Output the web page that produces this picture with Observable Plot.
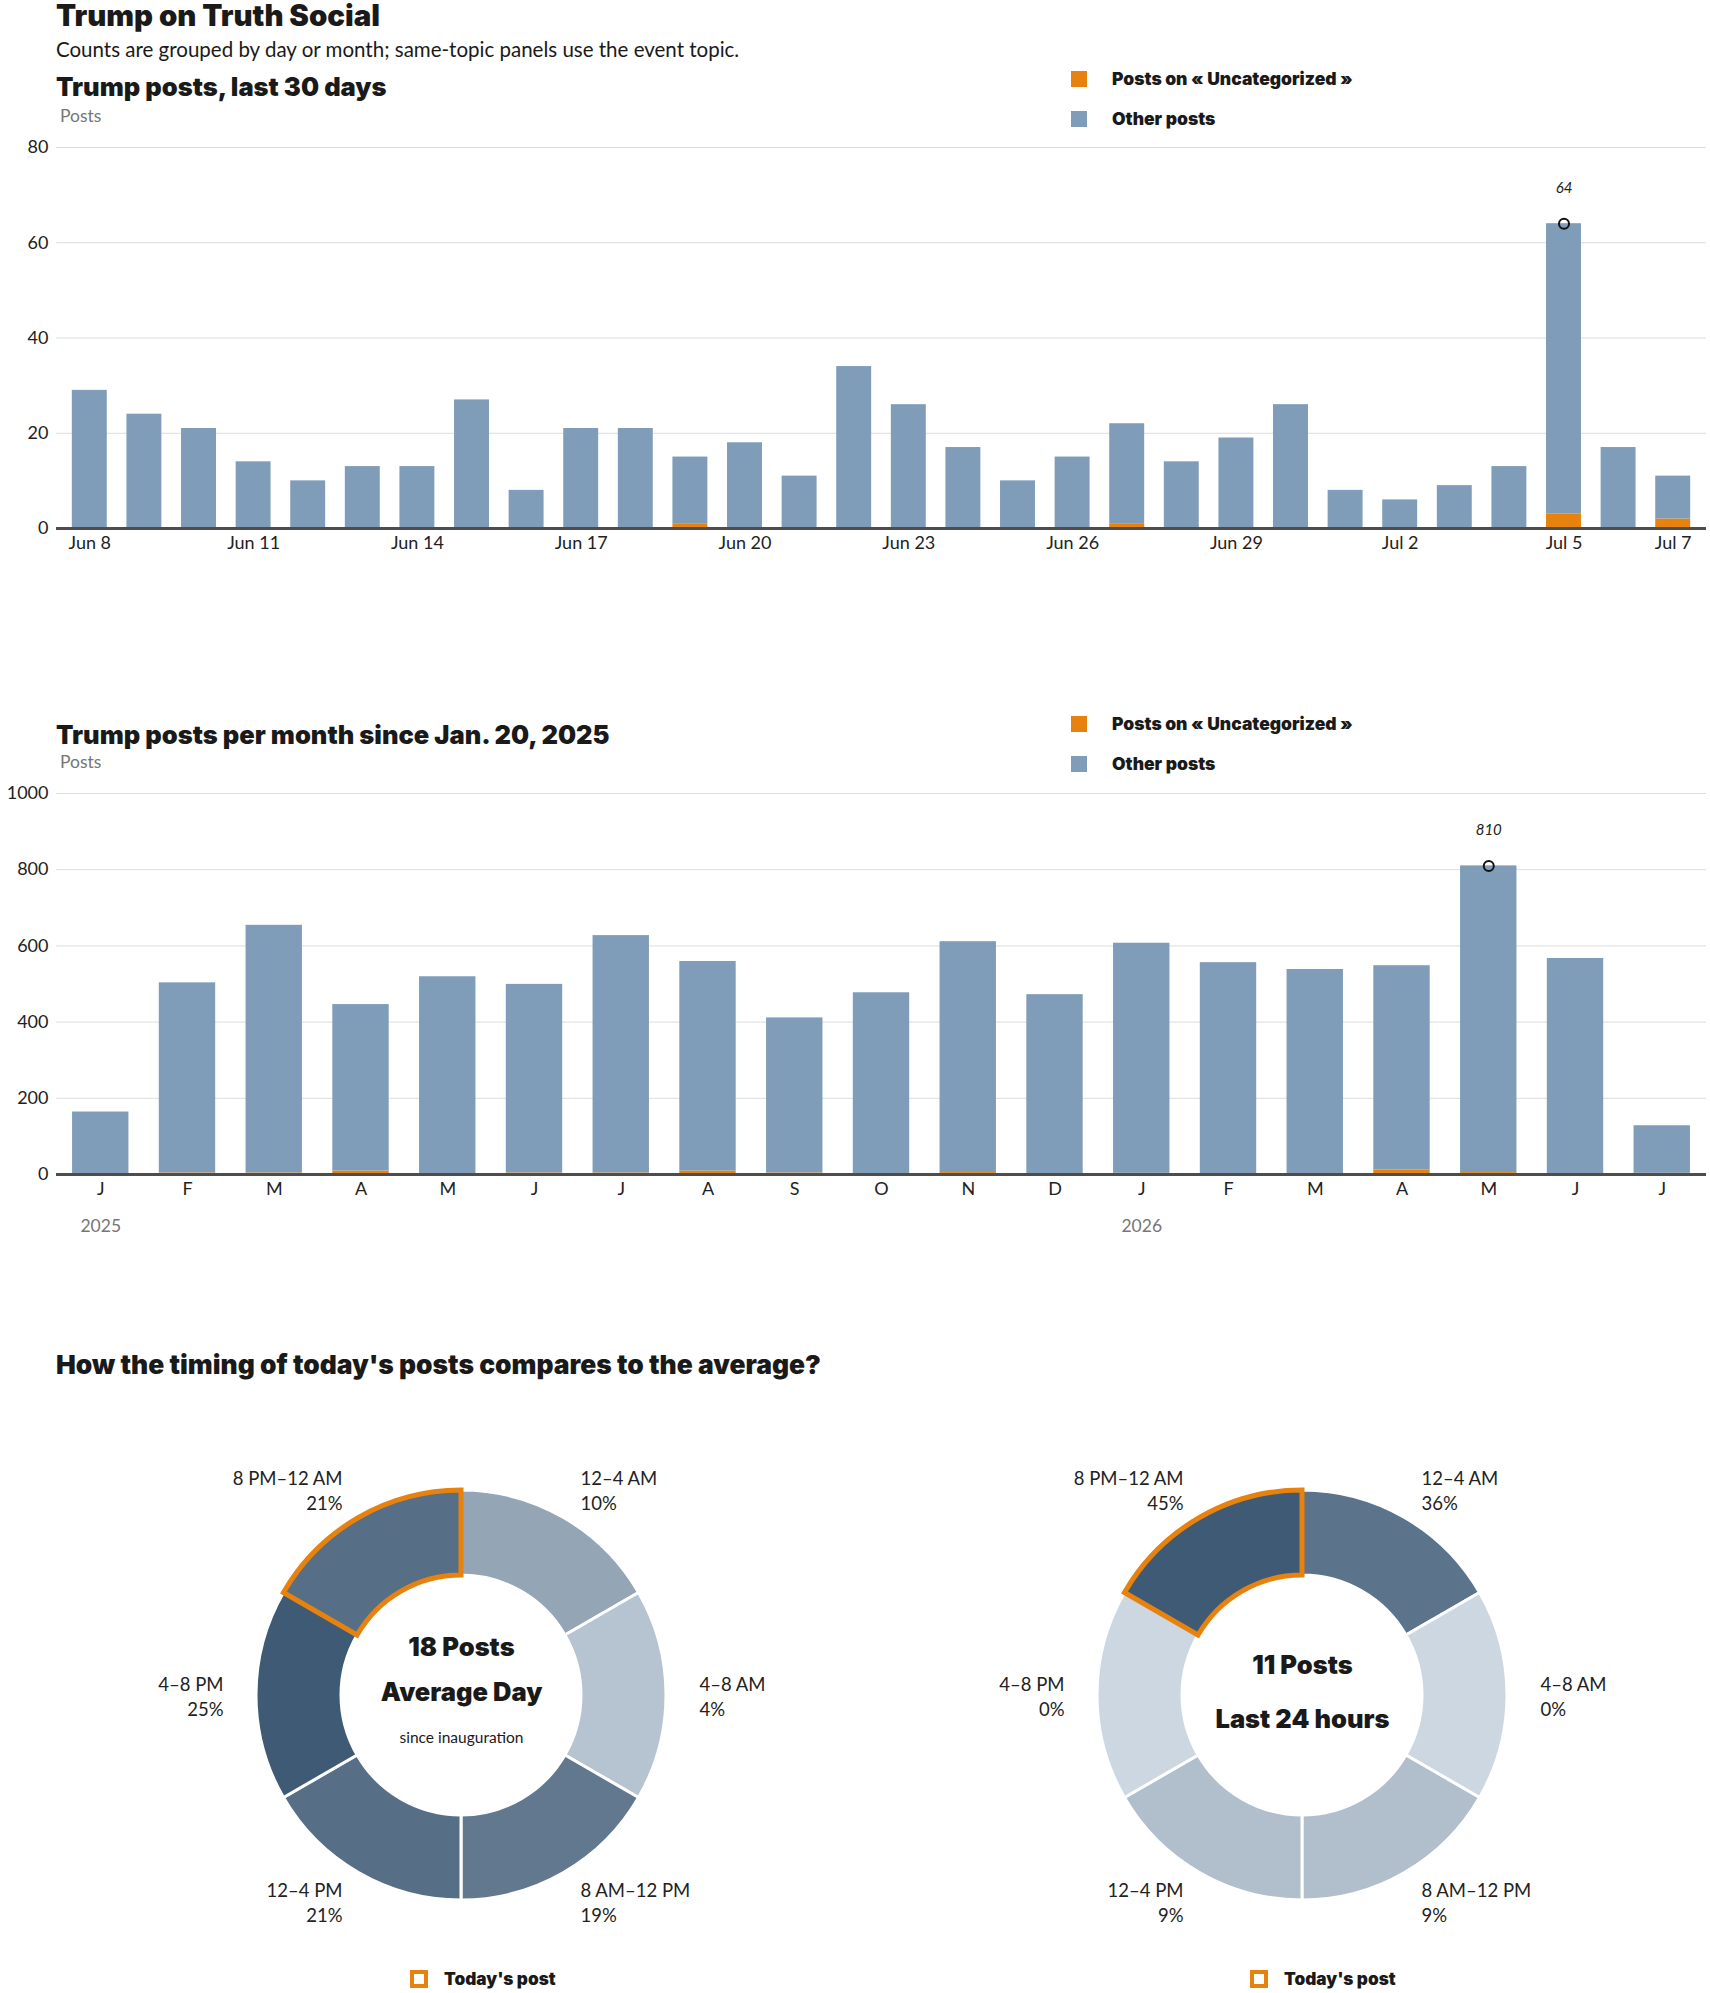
<!DOCTYPE html>
<html>
<head>
<meta charset="utf-8">
<script src="https://cdn.jsdelivr.net/npm/d3@7"></script>
<script src="https://cdn.jsdelivr.net/npm/@observablehq/plot@0.6"></script>
<style>
  html, body { margin: 0; padding: 0; background: #fff; }
  body { position: relative; width: 1710px; height: 1993px; overflow: hidden; font-family: Lato, "Noto Sans", sans-serif; color: #1a1a1a; }
  .abs { position: absolute; }
  svg { overflow: visible; }
</style>
</head>
<body>
<script>
// ---------------- DATA ----------------
const seriesNames = ["Posts on « Uncategorized »", "Other posts"];
const seriesColors = ["#e8820e", "#7f9db8"];

const days = ["Jun 8","Jun 9","Jun 10","Jun 11","Jun 12","Jun 13","Jun 14","Jun 15","Jun 16","Jun 17",
  "Jun 18","Jun 19","Jun 20","Jun 21","Jun 22","Jun 23","Jun 24","Jun 25","Jun 26","Jun 27",
  "Jun 28","Jun 29","Jun 30","Jul 1","Jul 2","Jul 3","Jul 4","Jul 5","Jul 6","Jul 7"];
const dailyUncategorized = [0,0,0,0,0,0,0,0,0,0, 0,1,0,0,0,0,0,0,0,1, 0,0,0,0,0,0,0,3,0,2];
const dailyOther =         [29,24,21,14,10,13,13,27,8,21, 21,14,18,11,34,26,17,10,15,21, 14,19,26,8,6,9,13,61,17,9];
const dayTicks = ["Jun 8","Jun 11","Jun 14","Jun 17","Jun 20","Jun 23","Jun 26","Jun 29","Jul 2","Jul 5","Jul 7"];
const dailyYTicks = [0,20,40,60,80];

const months = ["2025-01","2025-02","2025-03","2025-04","2025-05","2025-06","2025-07","2025-08","2025-09","2025-10",
  "2025-11","2025-12","2026-01","2026-02","2026-03","2026-04","2026-05","2026-06","2026-07"];
const monthLetters = ["J","F","M","A","M","J","J","A","S","O","N","D","J","F","M","A","M","J","J"];
const monthlyUncategorized = [0,4,4,9,0,4,4,9,4,0,5,0,3,0,0,12,5,0,3];
const monthlyOther =         [164,499,650,437,519,495,623,550,407,477,606,472,604,556,538,536,805,567,125];
const yearMonths = ["2025-01","2026-01"];
const yearLabels = ["2025","2026"];
const monthlyYTicks = [0,200,400,600,800,1000];

const slotLabels = ["12–4 AM","4–8 AM","8 AM–12 PM","12–4 PM","4–8 PM","8 PM–12 AM"];
const averagePct = [10,4,19,21,25,21];
const todayPct = [36,0,9,9,0,45];
const highlightSlot = "8 PM–12 AM";

// ---------------- HELPERS ----------------
const FONT = 'Lato, "Noto Sans", sans-serif';
const HEAVY = 'Inter, Roboto, Lato, sans-serif';
function txt(s, x, base, size, opts = {}) {
  const el = document.createElement("div");
  el.className = "abs";
  el.textContent = s;
  const weight = opts.weight || 400;
  const color = opts.color || "#1a1a1a";
  const fam = weight >= 800 ? HEAVY : FONT;
  const asc = weight >= 800 ? 0.864 : 0.887;
  el.style.cssText += `left:${x}px;top:${base - asc * size}px;font-family:${fam};font-size:${size}px;font-weight:${weight};color:${color};line-height:1;white-space:nowrap;` + (opts.style || "");
  document.body.append(el);
  return el;
}
function box(x, y, w, h, css) {
  const el = document.createElement("div");
  el.className = "abs";
  el.style.cssText += `left:${x}px;top:${y}px;width:${w}px;height:${h}px;box-sizing:border-box;` + css;
  document.body.append(el);
}
function place(svg, x, y) {
  const wrap = document.createElement("div");
  wrap.className = "abs";
  wrap.style.left = x + "px";
  wrap.style.top = y + "px";
  wrap.append(svg);
  document.body.append(wrap);
}
function legend(top) {
  box(1071, top, 16, 16, `background:${seriesColors[0]};`);
  txt(seriesNames[0], 1112, top + 14, 17.5, {weight: 900});
  box(1071, top + 40, 16, 16, `background:${seriesColors[1]};`);
  txt(seriesNames[1], 1112, top + 54, 17.5, {weight: 900});
}

// ---------------- HEADERS ----------------
txt("Trump on Truth Social", 56, 26, 29.4, {weight: 900});
txt("Counts are grouped by day or month; same-topic panels use the event topic.", 56, 57, 20.5);
txt("Trump posts, last 30 days", 56, 96, 25.5, {weight: 900});
txt("Posts", 60, 123, 17.5, {color: "#767676"});
legend(71);

// ---------------- CHART 1 ----------------
const dailyRows = days.flatMap((d, i) => [
  {day: d, series: seriesNames[0], value: dailyUncategorized[i]},
  {day: d, series: seriesNames[1], value: dailyOther[i]}
]);
const dailyTotals = days.map((d, i) => ({day: d, total: dailyUncategorized[i] + dailyOther[i]}));
const dailyMax = d3.greatest(dailyTotals, d => d.total);

const chart1 = Plot.plot({
  width: 1710, height: 438,
  marginTop: 17, marginBottom: 40, marginLeft: 56, marginRight: 4,
  style: {fontFamily: FONT, fontSize: "18px", color: "#222", background: "transparent", overflow: "visible"},
  x: {type: "band", domain: days, paddingInner: 0.36, paddingOuter: 0.29, round: false, label: null, tickSize: 0, tickPadding: 8,
      tickFormat: d => dayTicks.includes(d) ? d : ""},
  y: {domain: [0, 80], ticks: dailyYTicks, tickFormat: d => String(d), label: null, tickSize: 0, tickPadding: 8},
  color: {domain: seriesNames, range: seriesColors},
  marks: [
    Plot.ruleY(dailyYTicks.slice(1), {stroke: "#dcdcdc", strokeWidth: 1}),
    Plot.barY(dailyRows, {x: "day", y: "value", fill: "series"}),
    Plot.ruleY([0], {stroke: "#4d4d4d", strokeWidth: 3}),
    Plot.dot([dailyMax], {x: "day", y: "total", r: 5, stroke: "#111", strokeWidth: 2, fill: "none"}),
    Plot.text([dailyMax], {x: "day", y: "total", text: d => String(d.total), dy: -36, fontSize: 15, fontStyle: "italic", fill: "#222"})
  ]
});
place(chart1, 0, 130);

// ---------------- CHART 2 ----------------
txt("Trump posts per month since Jan. 20, 2025", 56, 744, 25.5, {weight: 900});
txt("Posts", 60, 769, 17.5, {color: "#767676"});
legend(716);

const monthlyRows = months.flatMap((m, i) => [
  {month: m, series: seriesNames[0], value: monthlyUncategorized[i]},
  {month: m, series: seriesNames[1], value: monthlyOther[i]}
]);
const monthlyTotals = months.map((m, i) => ({month: m, total: monthlyUncategorized[i] + monthlyOther[i]}));
const monthlyMax = d3.greatest(monthlyTotals, d => d.total);
const yearRows = yearMonths.map((m, i) => ({month: m, label: yearLabels[i]}));

const chart2 = Plot.plot({
  width: 1710, height: 468,
  marginTop: 17, marginBottom: 70, marginLeft: 56, marginRight: 4,
  style: {fontFamily: FONT, fontSize: "18px", color: "#222", background: "transparent", overflow: "visible"},
  x: {type: "band", domain: months, paddingInner: 0.35, paddingOuter: 0.185, round: false, label: null, tickSize: 0, tickPadding: 8,
      tickFormat: d => monthLetters[months.indexOf(d)]},
  y: {domain: [0, 1000], ticks: monthlyYTicks, tickFormat: d => String(d), label: null, tickSize: 0, tickPadding: 8},
  color: {domain: seriesNames, range: seriesColors},
  marks: [
    Plot.ruleY(monthlyYTicks.slice(1), {stroke: "#dcdcdc", strokeWidth: 1}),
    Plot.barY(monthlyRows, {x: "month", y: "value", fill: "series"}),
    Plot.ruleY([0], {stroke: "#4d4d4d", strokeWidth: 3}),
    Plot.text(yearRows, {x: "month", y: 0, text: "label", dy: 52, fontSize: 17.5, fill: "#767676"}),
    Plot.dot([monthlyMax], {x: "month", y: "total", r: 5, stroke: "#111", strokeWidth: 2, fill: "none"}),
    Plot.text([monthlyMax], {x: "month", y: "total", text: d => String(d.total), dy: -36, fontSize: 15, fontStyle: "italic", fill: "#222"})
  ]
});
place(chart2, 0, 776);

// ---------------- DONUTS ----------------
txt("How the timing of today's posts compares to the average?", 56, 1374, 26.4, {weight: 900});

const R_OUT = 205, R_IN = 120, R_LABEL = 238;
function donut(pcts, heavyLines, lightLines) {
  const slots = slotLabels.map((label, i) => {
    const mid = (i + 0.5) * 60 * Math.PI / 180;
    return {i, label, pct: pcts[i], lx: R_LABEL * Math.sin(mid), ly: R_LABEL * Math.cos(mid), right: Math.sin(mid) > 0};
  });
  const color = Plot.scale({color: {type: "linear", domain: [0, d3.max(pcts)], range: ["#cdd7e1", "#3f5a75"], interpolate: "rgb"}});
  const arcsMark = (index, scales) => {
    const cx = scales.x(0), cy = scales.y(0);
    const k = scales.x(1) - scales.x(0);
    const arc = d3.arc().innerRadius(R_IN * k).outerRadius(R_OUT * k);
    const g = d3.create("svg:g").attr("transform", `translate(${cx},${cy})`);
    const ordered = [...slots].sort((a, b) => (a.label === highlightSlot) - (b.label === highlightSlot));
    g.selectAll("path").data(ordered).join("path")
      .attr("d", d => arc({startAngle: d.i * Math.PI / 3, endAngle: (d.i + 1) * Math.PI / 3}))
      .attr("fill", d => color.apply(d.pct))
      .attr("stroke", d => d.label === highlightSlot ? "#e8820e" : "#fff")
      .attr("stroke-width", d => d.label === highlightSlot ? 5 : 3)
      .attr("stroke-linejoin", "miter");
    return g.node();
  };
  return Plot.plot({
    width: 800, height: 560, margin: 0,
    style: {fontFamily: FONT, background: "transparent", overflow: "visible"},
    x: {domain: [-400, 400], axis: null},
    y: {domain: [-280, 280], axis: null},
    marks: [
      arcsMark,
      Plot.text(slots.filter(d => d.right), {x: "lx", y: "ly", text: d => `${d.label}\n${d.pct}%`, textAnchor: "start", fontSize: 18.5, lineHeight: 1.35, fill: "#222"}),
      Plot.text(slots.filter(d => !d.right), {x: "lx", y: "ly", text: d => `${d.label}\n${d.pct}%`, textAnchor: "end", fontSize: 18.5, lineHeight: 1.35, fill: "#222"}),
      Plot.text(heavyLines, {x: 0, y: "y", text: "text", fontSize: 25.5, fontWeight: 900, fontFamily: HEAVY, fill: "#1a1a1a"}),
      Plot.text(lightLines, {x: 0, y: "y", text: "text", fontSize: 15.5, fill: "#1a1a1a"})
    ]
  });
}

const d1 = donut(averagePct,
  [{text: "18 Posts", y: 48}, {text: "Average Day", y: 3}],
  [{text: "since inauguration", y: -43}]);
place(d1, 461 - 400, 1695 - 280);

const d2 = donut(todayPct,
  [{text: "11 Posts", y: 30}, {text: "Last 24 hours", y: -24}],
  []);
place(d2, 1302 - 400, 1695 - 280);

// legends under the donuts
function todayLegend(x) {
  box(x, 1970, 18, 18, "border:4px solid #e8820e;background:#fff;");
  txt("Today's post", x + 34, 1985, 17.2, {weight: 900});
}
todayLegend(410);
todayLegend(1250);
</script>
</body>
</html>
